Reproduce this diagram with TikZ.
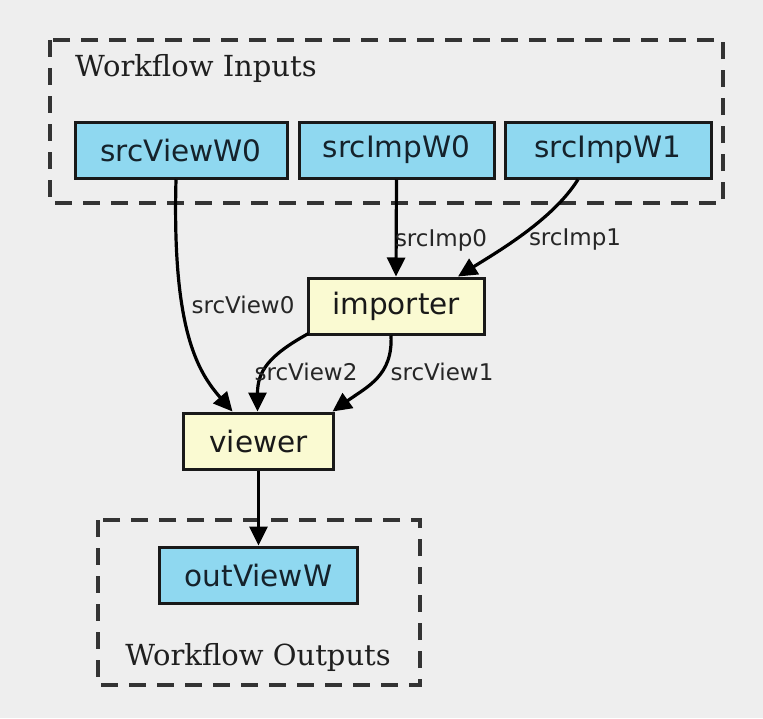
\documentclass[tikz,border=0pt]{standalone}
\usepackage{fontspec}
\setmainfont{DejaVu Sans}
\newfontfamily\clusterfont{DejaVu Serif}
\usetikzlibrary{arrows.meta,calc}
\definecolor{bgcol}{HTML}{EEEEEE}
\definecolor{iofill}{HTML}{8FD8F0}
\definecolor{stepfill}{HTML}{FAFAD2}
\definecolor{txtcol}{HTML}{15222B}
\definecolor{clustline}{HTML}{333333}
\tikzset{
  iobox/.style={draw=black!90, line width=3pt, fill=iofill, minimum height=56pt,
    inner sep=0pt, text=txtcol, font=\fontsize{29.5}{34}\selectfont},
  stepbox/.style={draw=black!90, line width=3pt, fill=stepfill, minimum height=56pt,
    inner sep=0pt, text=black!90, font=\fontsize{29.5}{34}\selectfont},
  cluster/.style={draw=clustline, line width=3.4pt, dash pattern=on 17pt off 11pt},
  clusterlabel/.style={font=\clusterfont\fontsize{29}{34}\selectfont, text=black!88, inner sep=0pt},
  flow/.style={line width=3.2pt, -{Triangle[length=19pt,width=18pt]}},
  elabel/.style={font=\fontsize{23}{27}\selectfont, text=black!85, inner sep=0pt}
}
\begin{document}
\begin{tikzpicture}[x=1pt,y=-1pt]
  % canvas
  \fill[bgcol] (0,0) rectangle (763,718);
  \useasboundingbox (0,0) rectangle (763,718);

  % clusters
  \draw[cluster] (50,40) rectangle (723,203);
  \node[clusterlabel, anchor=west] (inlabel) at (75,68) {Workflow Inputs};
  \draw[cluster] (98,520) rectangle (420,685);
  \node[clusterlabel] (outlabel) at (258,657) {Workflow Outputs};

  % nodes
  \node[iobox, minimum width=212pt] (srcViewW0) at (181,150) {srcViewW0};
  \node[iobox, minimum width=195pt] (srcImpW0) at (396.5,150) {srcImpW0};
  \node[iobox, minimum width=206pt] (srcImpW1) at (608,150) {srcImpW1};
  \node[stepbox, minimum width=176pt] (importer) at (396,306) {importer};
  \node[stepbox, minimum width=150pt, minimum height=56pt] (viewer) at (258.5,441) {viewer};
  \node[iobox, minimum width=198pt] (outViewW) at (258.5,575) {outViewW};

  % anchor points on node borders
  \coordinate (a1) at ($(srcViewW0.south)+(-5,0)$);
  \coordinate (a2) at ($(viewer.north)+(-26,0)$);
  \coordinate (b1) at ($(srcImpW1.south)+(-30,0)$);
  \coordinate (b2) at ($(importer.north)+(62,0)$);
  \coordinate (c1) at ($(importer.south west)+(2,-2)$);
  \coordinate (c2) at ($(viewer.north)+(-1,0)$);
  \coordinate (d1) at ($(importer.south)+(-5,0)$);
  \coordinate (d2) at ($(viewer.north)+(74,0)$);

  % connectors
  \draw[flow] (a1) .. controls ($(a1)+(-4,150)$) and ($(a2)+(-35,-40)$) .. (a2);
  \draw[flow] (srcImpW0.south) -- (importer.north);
  \draw[flow] (b1) .. controls ($(b1)+(-25,40)$) and ($(b2)+(40,-25)$) .. (b2);
  \draw[flow] (c1) .. controls ($(c1)+(-40,22)$) and ($(c2)+(0,-40)$) .. (c2);
  \draw[flow] (d1) .. controls ($(d1)+(2,40)$) and ($(d2)+(35,-25)$) .. (d2);
  \draw[flow] (viewer.south) -- (outViewW.north);

  % connector labels
  \node[elabel] (lsv0) at (243,305) {srcView0};
  \node[elabel] (lsi0) at (441,240) {srcImp0};
  \node[elabel] (lsi1) at (575,240) {srcImp1};
  \node[elabel] (lsv2) at (306,372) {srcView2};
  \node[elabel] (lsv1) at (442,372) {srcView1};
\end{tikzpicture}
\end{document}
